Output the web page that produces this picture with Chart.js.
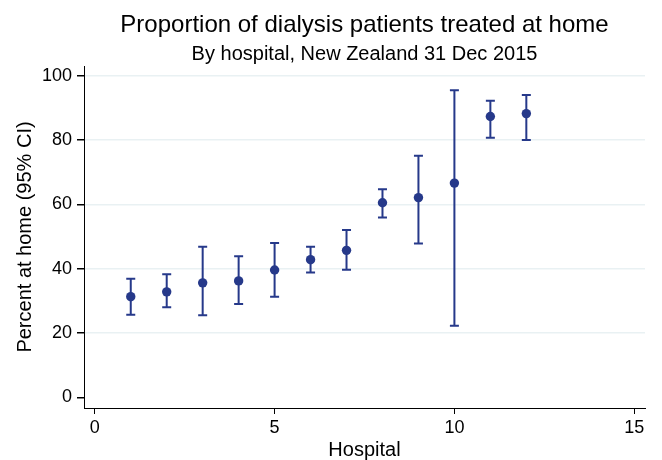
<!DOCTYPE html>
<html>
<head>
<meta charset="utf-8">
<script src="https://cdn.jsdelivr.net/npm/chart.js@4.4.1/dist/chart.umd.min.js"></script>
<style>
  html, body { margin: 0; padding: 0; background: #fff; }
  #wrap { width: 662px; height: 460px; }
</style>
</head>
<body>
<div id="wrap"><canvas id="dialysisChart" width="662" height="460"></canvas></div>
<script>
// hospitals and percent at home with 95% CI
const hospitals = [1, 2, 3, 4, 5, 6, 7, 8, 9, 10, 11, 12];
const percentHome = [31.3, 32.8, 35.6, 36.2, 39.6, 42.8, 45.7, 60.5, 62.1, 66.6, 87.3, 88.2];
const ciLower = [25.7, 28.0, 25.5, 29.0, 31.3, 38.8, 39.7, 55.9, 47.8, 22.3, 80.7, 80.0];
const ciUpper = [36.9, 38.3, 46.8, 43.9, 48.0, 46.8, 52.0, 64.7, 75.1, 95.5, 92.2, 94.0];
const xTicks = [0, 5, 10, 15];
const yTicks = [0, 20, 40, 60, 80, 100];

const navy = '#26398a';
const fontFamily = '"Liberation Sans", Arial, Helvetica, sans-serif';

// draw the CI whiskers with caps, using the chart's scales
const errorBars = {
    id: 'errorBars',
    beforeDatasetsDraw(chart) {
        const x = chart.scales.x;
        const y = chart.scales.y;
        const c = chart.ctx;
        const cap = 4.5;
        c.save();
        c.strokeStyle = navy;
        c.lineWidth = 2;
        hospitals.forEach((h, i) => {
            const px = x.getPixelForValue(h);
            const lo = y.getPixelForValue(ciLower[i]);
            const hi = y.getPixelForValue(ciUpper[i]);
            c.beginPath();
            c.moveTo(px, lo);
            c.lineTo(px, hi);
            c.moveTo(px - cap, lo);
            c.lineTo(px + cap, lo);
            c.moveTo(px - cap, hi);
            c.lineTo(px + cap, hi);
            c.stroke();
        });
        c.restore();
    }
};

const ctx = document.getElementById('dialysisChart').getContext('2d');
const chart = new Chart(ctx, {
    type: 'scatter',
    data: {
        datasets: [{
            label: 'Percent at home',
            data: hospitals.map((h, i) => ({ x: h, y: percentHome[i] })),
            backgroundColor: navy,
            borderColor: navy,
            pointRadius: 4.7,
            pointBorderWidth: 0
        }]
    },
    options: {
        responsive: false,
        animation: false,
        layout: { padding: { left: 0, right: 17, top: 0, bottom: 0 } },
        plugins: {
            legend: { display: false },
            tooltip: { enabled: false },
            title: {
                display: true,
                text: 'Proportion of dialysis patients treated at home',
                fullSize: false,
                color: '#000',
                font: { family: fontFamily, size: 24, weight: 'normal' },
                padding: { top: 10.6, bottom: 2.6 }
            },
            subtitle: {
                display: true,
                text: 'By hospital, New Zealand 31 Dec 2015',
                fullSize: false,
                color: '#000',
                font: { family: fontFamily, size: 20, weight: 'normal' },
                padding: { top: 0, bottom: 0 }
            }
        },
        scales: {
            x: {
                type: 'linear',
                min: -0.3,
                max: 15.3,
                afterBuildTicks: (scale) => { scale.ticks = xTicks.map(v => ({ value: v })); },
                afterFit: (scale) => { scale.height = 52; },
                grid: { drawOnChartArea: false, color: '#000', tickLength: 6 },
                border: { display: true, color: '#000', width: 1 },
                ticks: { color: '#000', padding: 3, maxRotation: 0, font: { family: fontFamily, size: 18 } },
                title: {
                    display: true,
                    text: 'Hospital',
                    color: '#000',
                    font: { family: fontFamily, size: 20, lineHeight: 1 },
                    padding: { top: 0, bottom: 0 }
                }
            },
            y: {
                type: 'linear',
                min: -3.3,
                max: 103,
                afterBuildTicks: (scale) => { scale.ticks = yTicks.map(v => ({ value: v })); },
                afterFit: (scale) => { scale.width = 84; },
                grid: {
                    color: (c) => (c.tick && c.tick.value === 0) ? 'rgba(0,0,0,0)' : '#e9f1f3',
                    tickColor: '#000',
                    tickLength: 7,
                    lineWidth: 1.5
                },
                border: { display: true, color: '#000', width: 1 },
                ticks: { color: '#000', padding: 5, font: { family: fontFamily, size: 18 } },
                title: {
                    display: true,
                    text: 'Percent at home (95% CI)',
                    color: '#000',
                    font: { family: fontFamily, size: 20 },
                    padding: { top: 13, bottom: 0 }
                }
            }
        }
    },
    plugins: [errorBars]
});
</script>
</body>
</html>
